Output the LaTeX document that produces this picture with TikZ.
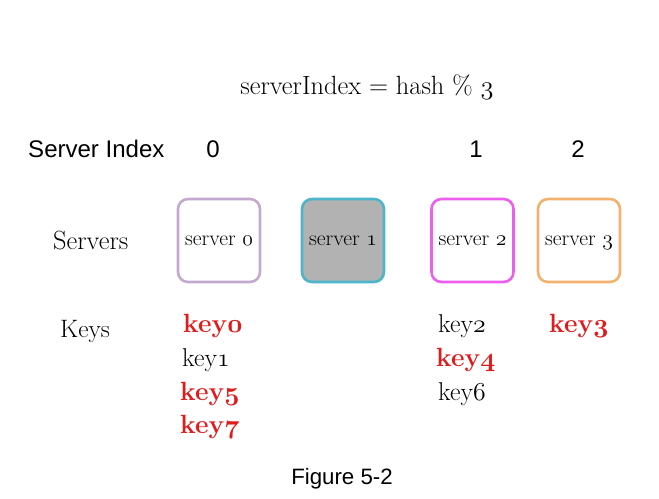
\documentclass[tikz,border=0pt]{standalone}
\usepackage{fix-cm}
\usepackage{fontspec}
\newfontfamily\arialfont{Liberation Sans}
\usepackage{xcolor}
\usepackage{tikz}
\usetikzlibrary{positioning}
\definecolor{keyred}{HTML}{E01B1B}
\definecolor{srvlav}{HTML}{C3A9CF}
\definecolor{srvteal}{HTML}{4CB5C9}
\definecolor{srvgray}{HTML}{B2B2B2}
\definecolor{srvpink}{HTML}{EE5EEE}
\definecolor{srvorange}{HTML}{F2B26E}
\newcommand{\osd}[1]{$\mathnormal{#1}$}
\newcommand{\osdb}[1]{{\boldmath$\mathnormal{#1}$}}
\tikzstyle{txt}      =[inner sep=0pt, anchor=base west]
\tikzstyle{sanslbl}  =[txt, font=\arialfont\fontsize{20.5}{24}\selectfont]
\tikzstyle{seriflbl} =[txt, font=\fontsize{22.5}{26}\selectfont]
\tikzstyle{srv}      =[draw, line width=2.2pt, rounded corners=0.3cm, minimum width=2.46cm,
                       minimum height=2.49cm, fill=white, text depth=0pt,
                       font=\fontsize{18.5}{22}\selectfont]
\tikzstyle{hotkey}   =[txt, text=keyred, font=\fontsize{22.5}{26}\selectfont\bfseries]
\tikzstyle{coldkey}  =[txt, font=\fontsize{22}{26}\selectfont]

\begin{document}
\begin{tikzpicture}[x=0.03cm, y=-0.03cm]
  \useasboundingbox (0,0) rectangle (659,499);

  % ── title ──────────────────────────────────────────────────────────────────
  \node[seriflbl, anchor=base] (formula) at (367,94) {serverIndex = hash \% \osd{3}};

  % ── server index row ───────────────────────────────────────────────────────
  \node[sanslbl] (idxlbl) at (28,157) {Server Index};
  \node[sanslbl, anchor=base] (idx0) at (213,157) {0};
  \node[sanslbl, anchor=base] (idx1) at (476,157) {1};
  \node[sanslbl, anchor=base] (idx2) at (578,157) {2};

  % ── servers ────────────────────────────────────────────────────────────────
  \node[seriflbl] (srvlbl) at (53,249) {Servers};
  \node[srv, draw=srvlav]                  (srv0) at (219,240.5) {server \osd{0}};
  \node[srv, draw=srvteal, fill=srvgray]   (srv1) at (343,240.5) {server \osd{1}};
  \node[srv, draw=srvpink]                 (srv2) at (472.5,240.5) {server \osd{2}};
  \node[srv, draw=srvorange]               (srv3) at (579,240.5) {server \osd{3}};

  % ── keys ───────────────────────────────────────────────────────────────────
  \node[seriflbl, font=\fontsize{21.5}{26}\selectfont] (keylbl) at (60,337) {Keys};
  \node[hotkey]  (key0) at (183,332) {key\osdb{0}};
  \node[coldkey] (key1) at (182,366) {key\osd{1}};
  \node[hotkey]  (key5) at (180,400) {key\osdb{5}};
  \node[hotkey]  (key7) at (180,433) {key\osdb{7}};
  \node[coldkey] (key2) at (438,332) {key\osd{2}};
  \node[hotkey]  (key4) at (436,366) {key\osdb{4}};
  \node[coldkey] (key6) at (438,400) {key\osd{6}};
  \node[hotkey]  (key3) at (549,332) {key\osdb{3}};

  % ── caption ────────────────────────────────────────────────────────────────
  \node[sanslbl, anchor=base, font=\arialfont\fontsize{19}{23}\selectfont] (caption) at (342,484) {Figure 5-2};

\end{tikzpicture}
\end{document}
